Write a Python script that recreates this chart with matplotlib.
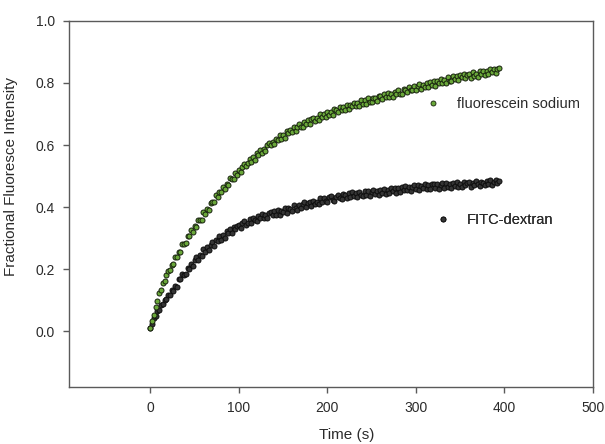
import numpy as np
import matplotlib
matplotlib.use('Agg')
import matplotlib.pyplot as plt
from matplotlib.lines import Line2D

# sampling: one reading every 2 s starting at t = 0
SAMPLE_STEP = 2.0

# fluorescein sodium, t = 0, 2, 4 ... 394 s
fluorescein = [
    0.010, 0.033, 0.052, 0.079, 0.097, 0.122, 0.132, 0.154, 0.162, 0.181,
    0.195, 0.196, 0.214, 0.216, 0.239, 0.239, 0.256, 0.257, 0.280, 0.280,
    0.286, 0.308, 0.307, 0.327, 0.321, 0.338, 0.335, 0.357, 0.360, 0.360,
    0.383, 0.378, 0.394, 0.390, 0.413, 0.416, 0.415, 0.439, 0.433, 0.450,
    0.449, 0.466, 0.457, 0.476, 0.472, 0.494, 0.489, 0.490, 0.509, 0.505,
    0.521, 0.512, 0.529, 0.539, 0.532, 0.541, 0.556, 0.546, 0.561, 0.553,
    0.574, 0.569, 0.585, 0.574, 0.587, 0.581, 0.599, 0.606, 0.599, 0.610,
    0.603, 0.620, 0.617, 0.631, 0.620, 0.633, 0.624, 0.644, 0.639, 0.650,
    0.642, 0.658, 0.646, 0.658, 0.668, 0.658, 0.657, 0.674, 0.668, 0.680,
    0.667, 0.683, 0.688, 0.678, 0.687, 0.681, 0.700, 0.690, 0.701, 0.691,
    0.708, 0.696, 0.707, 0.698, 0.715, 0.713, 0.706, 0.724, 0.712, 0.723,
    0.714, 0.729, 0.715, 0.729, 0.725, 0.737, 0.726, 0.735, 0.726, 0.744,
    0.733, 0.745, 0.732, 0.751, 0.740, 0.738, 0.752, 0.750, 0.741, 0.758,
    0.758, 0.747, 0.763, 0.755, 0.768, 0.755, 0.764, 0.755, 0.772, 0.763,
    0.777, 0.766, 0.763, 0.780, 0.778, 0.770, 0.788, 0.778, 0.776, 0.790,
    0.778, 0.790, 0.797, 0.781, 0.793, 0.787, 0.801, 0.786, 0.802, 0.795,
    0.806, 0.791, 0.807, 0.801, 0.813, 0.800, 0.810, 0.801, 0.819, 0.807,
    0.806, 0.821, 0.812, 0.821, 0.808, 0.825, 0.818, 0.830, 0.815, 0.827,
    0.830, 0.817, 0.835, 0.823, 0.830, 0.820, 0.837, 0.828, 0.840, 0.827,
    0.839, 0.828, 0.845, 0.835, 0.845, 0.833, 0.844, 0.849,
]

# FITC-dextran, same time base
fitc_dextran = [
    0.011, 0.023, 0.044, 0.049, 0.066, 0.069, 0.086, 0.087, 0.102, 0.103,
    0.117, 0.117, 0.132, 0.130, 0.146, 0.144, 0.168, 0.167, 0.185, 0.181,
    0.185, 0.205, 0.201, 0.217, 0.209, 0.229, 0.238, 0.231, 0.245, 0.241,
    0.264, 0.256, 0.271, 0.262, 0.278, 0.287, 0.275, 0.294, 0.291, 0.306,
    0.295, 0.311, 0.301, 0.322, 0.316, 0.328, 0.317, 0.337, 0.328, 0.338,
    0.344, 0.332, 0.348, 0.355, 0.343, 0.350, 0.362, 0.349, 0.364, 0.358,
    0.355, 0.372, 0.364, 0.378, 0.364, 0.374, 0.365, 0.382, 0.385, 0.374,
    0.387, 0.375, 0.392, 0.376, 0.389, 0.383, 0.397, 0.381, 0.397, 0.394,
    0.389, 0.406, 0.396, 0.392, 0.408, 0.398, 0.409, 0.415, 0.401, 0.412,
    0.415, 0.403, 0.421, 0.411, 0.418, 0.411, 0.428, 0.415, 0.428, 0.421,
    0.417, 0.432, 0.436, 0.423, 0.420, 0.434, 0.438, 0.429, 0.426, 0.442,
    0.438, 0.428, 0.444, 0.432, 0.448, 0.436, 0.446, 0.432, 0.450, 0.440,
    0.436, 0.453, 0.440, 0.451, 0.436, 0.448, 0.455, 0.441, 0.453, 0.440,
    0.455, 0.445, 0.459, 0.443, 0.454, 0.445, 0.461, 0.451, 0.461, 0.446,
    0.460, 0.448, 0.464, 0.456, 0.468, 0.454, 0.465, 0.453, 0.465, 0.470,
    0.457, 0.471, 0.455, 0.469, 0.462, 0.474, 0.458, 0.470, 0.458, 0.473,
    0.476, 0.463, 0.474, 0.459, 0.470, 0.477, 0.463, 0.477, 0.465, 0.473,
    0.463, 0.477, 0.468, 0.481, 0.465, 0.476, 0.464, 0.481, 0.471, 0.478,
    0.481, 0.466, 0.479, 0.470, 0.484, 0.473, 0.467, 0.482, 0.479, 0.470,
    0.483, 0.474, 0.486, 0.472, 0.482, 0.487, 0.478, 0.485,
]

labels = ["fluorescein sodium", "FITC-dextran"]
# where the two label entries sit, in data units (time, intensity)
label_pos = [(311, 0.732), (322, 0.358)]

x_ticks = [0, 100, 200, 300, 400, 500]
y_ticks = [0.0, 0.2, 0.4, 0.6, 0.8, 1.0]

plt.rcParams['font.family'] = ['Liberation Sans', 'DejaVu Sans']
TXT = '#2b2b2b'
FRAME = '#5a5a5a'
GREEN = '#6aa83a'
GREEN_EDGE = '#17210e'
DARK = '#353535'
DARK_EDGE = '#0d0d0d'

t = np.arange(len(fluorescein)) * SAMPLE_STEP
t2 = np.arange(len(fitc_dextran)) * SAMPLE_STEP

fig = plt.figure(figsize=(6.05, 4.44), dpi=100)
ax = fig.add_axes([0.114, 0.128, 0.866, 0.825])

ax.scatter(t2, fitc_dextran, s=13, c=DARK, edgecolors=DARK_EDGE, linewidths=0.7, zorder=3)
ax.scatter(t, fluorescein, s=13, c=GREEN, edgecolors=GREEN_EDGE, linewidths=0.7, zorder=4)

ax.set_xlim(-92, 500)
ax.set_ylim(-0.18, 1.0)
ax.set_xticks(x_ticks)
ax.set_yticks(y_ticks)
ax.set_xticklabels([str(v) for v in x_ticks])
ax.set_yticklabels([f"{v:.1f}" for v in y_ticks])

for side in ['left', 'bottom', 'top', 'right']:
    ax.spines[side].set_color(FRAME)
    ax.spines[side].set_linewidth(1.0)
ax.tick_params(direction='out', length=4, width=1, color=FRAME,
               labelsize=10, labelcolor=TXT, top=False, right=False, pad=6)

# axis titles are centred on the labelled range, not on the frame
ax.set_xlabel("Time (s)", fontsize=11, color=TXT)
ax.set_ylabel("Fractional Fluoresce Intensity", fontsize=11, color=TXT)
ax.xaxis.set_label_coords(0.530, -0.112)
ax.yaxis.set_label_coords(-0.097, 0.574)

# labels placed next to each curve
handles = [
    Line2D([], [], linestyle='none', marker='o', markersize=3.6,
           markerfacecolor=GREEN, markeredgecolor=GREEN_EDGE, markeredgewidth=0.6),
    Line2D([], [], linestyle='none', marker='o', markersize=3.6,
           markerfacecolor=DARK, markeredgecolor=DARK_EDGE, markeredgewidth=0.6),
]
for h, lab, pos in zip(handles, labels, label_pos):
    leg = ax.legend(handles=[h], labels=[lab], loc='center left',
                    bbox_to_anchor=pos, bbox_transform=ax.transData,
                    frameon=False, fontsize=10.5, handlelength=1.0,
                    handletextpad=1.15, borderpad=0, borderaxespad=0,
                    labelcolor=TXT)
    ax.add_artist(leg)

fig.savefig("out.png", dpi=100)
